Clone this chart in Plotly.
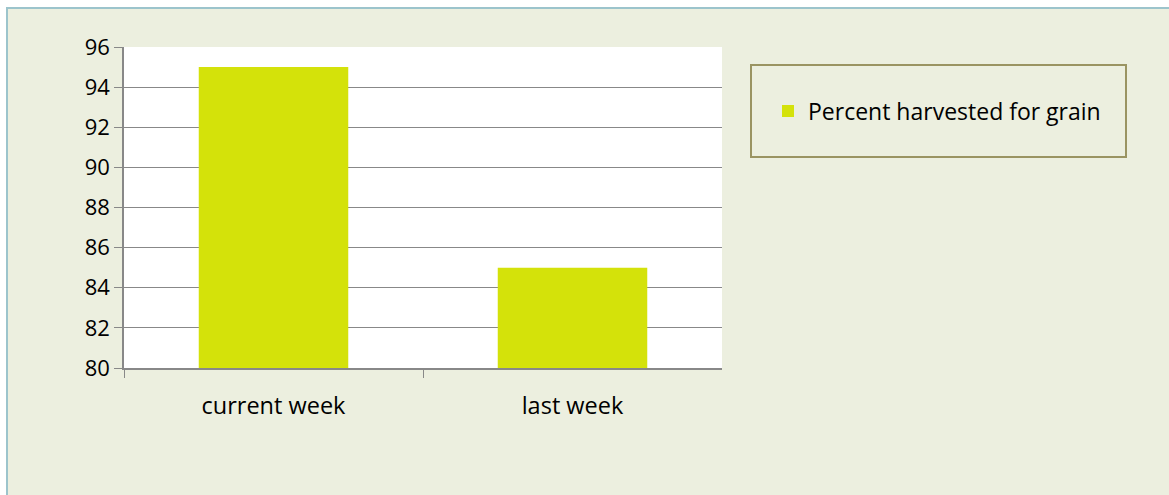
import plotly.graph_objects as go

categories = ["current week", "last week"]
values = [95, 85]
series_name = "Percent harvested for grain"
y_ticks = [80, 82, 84, 86, 88, 90, 92, 94, 96]

W, H = 1169, 495
def px(x):
    return x / W
def py(y):
    return 1 - y / H

bar_color = "#D4E20A"
grid_color = "#888888"
font_family = "'Open Sans', sans-serif"

fig = go.Figure()
fig.add_trace(go.Bar(x=categories, y=values, name=series_name,
                     marker=dict(color=bar_color, line=dict(width=0)),
                     showlegend=True))

fig.update_layout(
    width=W, height=H,
    margin=dict(l=0, r=0, t=0, b=0, autoexpand=False),
    paper_bgcolor="white",
    plot_bgcolor="white",
    bargap=0.5,
    font=dict(family=font_family, size=23, color="black"),
    showlegend=True,
    legend=dict(x=px(768), y=py(111), xanchor="left", yanchor="middle",
                bgcolor="rgba(0,0,0,0)", borderwidth=0,
                font=dict(family=font_family, size=23, color="black")),
    xaxis=dict(domain=[px(124), px(722)], showgrid=False, automargin=False,
               ticks="outside", tickson="boundaries", ticklen=8,
               tickcolor=grid_color, showline=True, linecolor=grid_color,
               linewidth=1.5, ticklabelstandoff=16, fixedrange=True,
               tickfont=dict(size=23.5)),
    yaxis=dict(domain=[py(368), py(47)], range=[80, 96], tickvals=y_ticks,
               showgrid=True, gridcolor=grid_color, gridwidth=1.3, automargin=False,
               ticks="outside", ticklen=8, tickcolor=grid_color, tickwidth=1.3,
               showline=True, linecolor=grid_color, linewidth=1.5,
               zeroline=False, fixedrange=True, tickfont=dict(size=22)),
    shapes=[
        dict(type="rect", xref="paper", yref="paper",
             x0=px(7), x1=px(W + 10), y0=py(H + 10), y1=py(8),
             fillcolor="#ECEFDF", line=dict(color="#9CC4CC", width=2),
             layer="below"),
        dict(type="rect", xref="paper", yref="paper",
             x0=px(124), x1=px(722), y0=py(368), y1=py(47),
             fillcolor="white", line=dict(width=0), layer="below"),
        dict(type="rect", xref="paper", yref="paper",
             x0=px(751), x1=px(1126), y0=py(157), y1=py(65),
             fillcolor="rgba(0,0,0,0)", line=dict(color="#9A9462", width=2),
             layer="above"),
    ],
)

fig.write_html(
    "out.html",
    config={"displayModeBar": False},
    post_script=(
        "document.body.style.margin='0';"
        "document.body.style.overflow='hidden';"
        "document.documentElement.style.overflow='hidden';"
    ),
)
